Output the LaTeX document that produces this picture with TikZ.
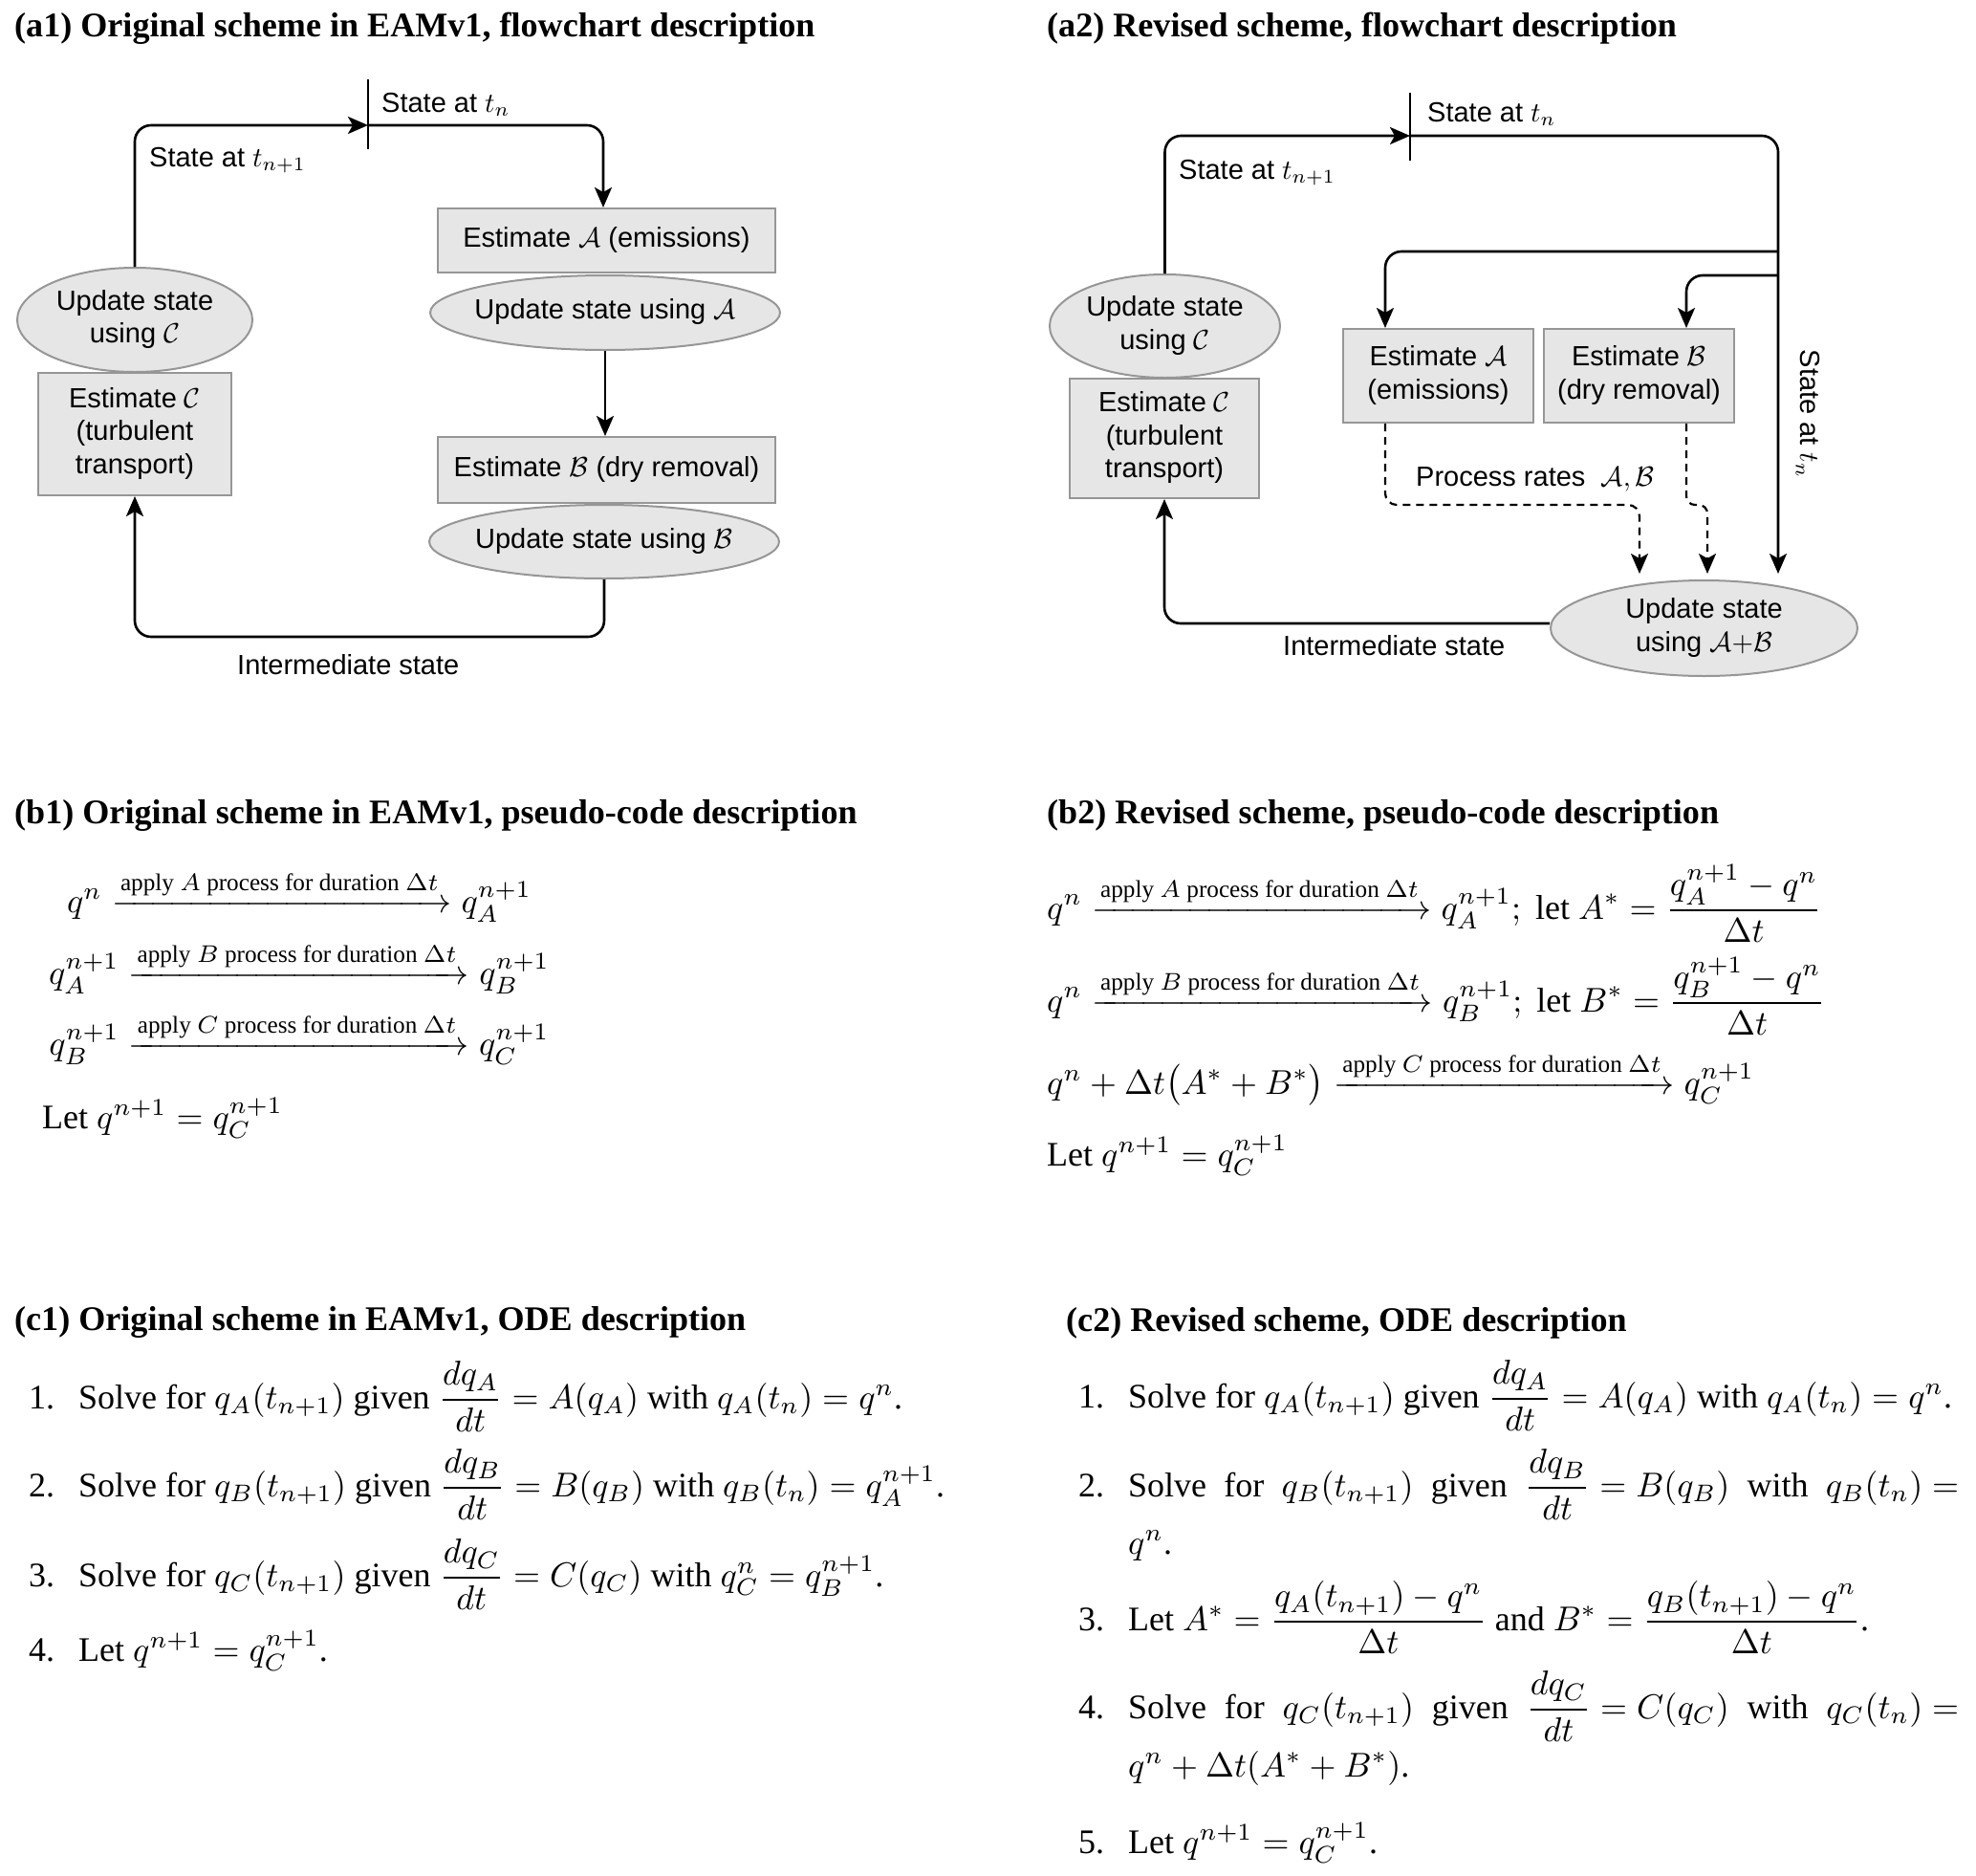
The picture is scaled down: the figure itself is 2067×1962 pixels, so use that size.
\RequirePackage{fix-cm}
\documentclass[tikz,border=0pt]{standalone}
\usepackage{amsmath}
\usepackage{graphicx}
\usepackage[no-math]{fontspec}
\setmainfont{Liberation Serif}
\setsansfont{Liberation Sans}
\usetikzlibrary{arrows.meta,shapes.geometric,calc}
\definecolor{boxfill}{RGB}{230,230,230}
\definecolor{boxline}{RGB}{150,150,150}
% text set at 10pt and scaled up, so that math scripts keep their 10pt proportions
\newcommand{\fl}[1]{\scalebox{2.9}{\sffamily\fontsize{10}{11.9}\selectfont\begin{tabular}{@{}c@{}}#1\end{tabular}}}
\newcommand{\fls}[1]{\scalebox{2.9}{\sffamily\fontsize{10}{12}\selectfont #1}}
\newcommand{\bt}[1]{\scalebox{3.6}{\rmfamily\fontsize{10}{12}\selectfont #1}}
\newcommand{\hd}[1]{\scalebox{3.61}{\rmfamily\bfseries\fontsize{10}{12}\selectfont #1}}
\newcommand{\applyarrow}[1]{\xrightarrow{\text{apply $#1$ process for duration $\Delta t$}}}
\tikzset{
  conn/.style={line width=2.6pt, -{Stealth[length=21pt,width=18pt,inset=5pt]}, rounded corners=17pt},
  dconn/.style={conn, line width=2.2pt, dash pattern=on 8pt off 6pt, rounded corners=12pt},
  tickmark/.style={line width=2.6pt},
  procbox/.style={rectangle, draw=boxline, fill=boxfill, line width=2pt, inner sep=0pt},
  procell/.style={ellipse, draw=boxline, fill=boxfill, line width=2pt, inner xsep=-80pt, inner ysep=-30pt},
  lab/.style={inner sep=0pt},
  head/.style={inner sep=0pt, anchor=base west},
  body/.style={inner sep=0pt, anchor=base west}
}
\begin{document}
\begin{tikzpicture}[x=1pt,y=-1pt]
\useasboundingbox (0,0) rectangle (2067,1962);

% ---------------- (a1) ----------------
\node[head] (ha1) at (15,38) {\hd{(a1) Original scheme in EAMv1, flowchart description}};
\node[procell, minimum width=246pt, minimum height=109pt] (ellC) at (141,334.5) {\fl{Update state\\using $\mathcal{C}$}};
\node[procbox, minimum width=202pt, minimum height=128pt] (boxC) at (141,454) {\fl{Estimate $\mathcal{C}$\\(turbulent\\transport)}};
\node[procbox, minimum width=353pt, minimum height=67pt] (boxA) at (634.5,251.5) {\fl{Estimate $\mathcal{A}$ (emissions)}};
\node[procell, minimum width=366pt, minimum height=78pt] (ellA) at (633,327) {\fl{Update state using $\mathcal{A}$}};
\node[procbox, minimum width=353pt, minimum height=69pt] (boxB) at (634.5,491.5) {\fl{Estimate $\mathcal{B}$ (dry removal)}};
\node[procell, minimum width=366pt, minimum height=77pt] (ellB) at (632,566.5) {\fl{Update state using $\mathcal{B}$}};

\coordinate (t1) at (385,131);
\draw[tickmark] (385,83) -- (385,156);
\draw[conn] (ellC.north) |- (t1);
\draw[conn] (t1) -| (631,0 |- boxA.north);
\draw[conn] (ellA.south) -- (ellA.south |- boxB.north);
\draw[conn] (ellB.south) -- ++(0,60) -| (boxC.south);

\node[lab, anchor=base west] (lTn1) at (399,117) {\fls{State at $t_n$}};
\node[lab, anchor=base west] (lTnp1) at (156,174) {\fls{State at $t_{n+1}$}};
\node[lab, anchor=base west] (lInt1) at (248,705) {\fls{Intermediate state}};

% ---------------- (a2) ----------------
\node[head] (ha2) at (1095,38) {\hd{(a2) Revised scheme, flowchart description}};
\node[procell, minimum width=241pt, minimum height=108pt] (ellC2) at (1218.5,341) {\fl{Update state\\using $\mathcal{C}$}};
\node[procbox, minimum width=198pt, minimum height=125pt] (boxC2) at (1218,458.5) {\fl{Estimate $\mathcal{C}$\\(turbulent\\transport)}};
\node[procbox, minimum width=199pt, minimum height=98pt] (boxA2) at (1504.5,393) {\fl{Estimate $\mathcal{A}$\\(emissions)}};
\node[procbox, minimum width=199pt, minimum height=98pt] (boxB2) at (1714.5,393) {\fl{Estimate $\mathcal{B}$\\(dry removal)}};
\node[procell, minimum width=321pt, minimum height=100pt] (ellAB) at (1782.5,657) {\fl{Update state\\using $\mathcal{A}{+}\mathcal{B}$}};

\coordinate (t2) at (1475,142);
\coordinate (rv) at (1860,600);
\coordinate (j1) at (1860,263);
\coordinate (j2) at (1860,288);
\coordinate (dA) at (1715,600);
\coordinate (dB) at (1786,600);
\draw[tickmark] (1475,97) -- (1475,168);
\draw[conn] (ellC2.north) |- (t2);
\draw[conn] (t2) -| (rv);
\draw[conn] (j1) -| (1449,0 |- boxA2.north);
\draw[conn] (j2) -| (1764,0 |- boxB2.north);
\draw[dconn] (1449,0 |- boxA2.south) |- (1715,528) -- (dA);
\draw[dconn, rounded corners=9pt] (1764,0 |- boxB2.south) |- (1786,528) -- (dB);
\draw[conn] ([yshift=5pt]ellAB.west) -| (boxC2.south);

\node[lab, anchor=base west] (lTn2) at (1493,127) {\fls{State at $t_n$}};
\node[lab, anchor=base west] (lTnp2) at (1233,187) {\fls{State at $t_{n+1}$}};
\node[lab, anchor=base west] (lInt2) at (1342,685) {\fls{Intermediate state}};
\node[lab, anchor=base west] (lPR) at (1481,508) {\fls{Process rates~~$\mathcal{A},\mathcal{B}$}};
\node[lab, rotate=-90] (lTn3) at (1891,433) {\fls{State at $t_n$}};

% ---------------- (b1) ----------------
\node[head] (hb1) at (15,861) {\hd{(b1) Original scheme in EAMv1, pseudo-code description}};
\node[body, anchor=base] (b1l1) at (313,954) {\bt{$q^n \applyarrow{A} q_A^{n+1}$}};
\node[body, anchor=base] (b1l2) at (313,1029) {\bt{$q_A^{n+1} \applyarrow{B} q_B^{n+1}$}};
\node[body, anchor=base] (b1l3) at (313,1103) {\bt{$q_B^{n+1} \applyarrow{C} q_C^{n+1}$}};
\node[body] (b1l4) at (44,1180) {\bt{Let $q^{n+1} = q_C^{n+1}$}};

% ---------------- (b2) ----------------
\node[head] (hb2) at (1095,861) {\hd{(b2) Revised scheme, pseudo-code description}};
\node[body] (b2l1) at (1095,961) {\bt{$\displaystyle q^n \applyarrow{A} q_A^{n+1};\ \text{let}\ A^* = \frac{q_A^{n+1}-q^n}{\Delta t}$}};
\node[body] (b2l2) at (1095,1058) {\bt{$\displaystyle q^n \applyarrow{B} q_B^{n+1};\ \text{let}\ B^* = \frac{q_B^{n+1}-q^n}{\Delta t}$}};
\node[body] (b2l3) at (1095,1144) {\bt{$q^n + \Delta t\bigl(A^* + B^*\bigr) \applyarrow{C} q_C^{n+1}$}};
\node[body] (b2l4) at (1095,1219) {\bt{Let $q^{n+1} = q_C^{n+1}$}};

% ---------------- (c1) ----------------
\node[head] (hc1) at (15,1391) {\hd{(c1) Original scheme in EAMv1, ODE description}};
\node[body] (c1n1) at (30,1473) {\bt{1.}};
\node[body] (c1i1) at (82,1473) {\bt{Solve for $q_A(t_{n+1})$ given $\dfrac{dq_A}{dt} = A(q_A)$ with $q_A(t_n) = q^n$.}};
\node[body] (c1n2) at (30,1565) {\bt{2.}};
\node[body] (c1i2) at (82,1565) {\bt{Solve for $q_B(t_{n+1})$ given $\dfrac{dq_B}{dt} = B(q_B)$ with $q_B(t_n) = q_A^{n+1}$.}};
\node[body] (c1n3) at (30,1659) {\bt{3.}};
\node[body] (c1i3) at (82,1659) {\bt{Solve for $q_C(t_{n+1})$ given $\dfrac{dq_C}{dt} = C(q_C)$ with $q_C^n = q_B^{n+1}$.}};
\node[body] (c1n4) at (30,1737) {\bt{4.}};
\node[body] (c1i4) at (82,1737) {\bt{Let $q^{n+1} = q_C^{n+1}$.}};

% ---------------- (c2) ----------------
\node[head] (hc2) at (1115,1392) {\hd{(c2) Revised scheme, ODE description}};
\node[body] (c2n1) at (1128,1472) {\bt{1.}};
\node[body] (c2i1) at (1180,1472) {\bt{Solve for $q_A(t_{n+1})$ given $\dfrac{dq_A}{dt} = A(q_A)$ with $q_A(t_n) = q^n$.}};
\node[body] (c2n2) at (1128,1565) {\bt{2.}};
\node[body] (c2i2) at (1180,1565) {\bt{\makebox[241.4pt][s]{Solve for \mbox{$q_B(t_{n+1})$} given \mbox{$\dfrac{dq_B}{dt} = B(q_B)$} with \mbox{$q_B(t_n) =$}}}};
\node[body] (c2i2b) at (1180,1625) {\bt{$q^n$.}};
\node[body] (c2n3) at (1128,1705) {\bt{3.}};
\node[body] (c2i3) at (1180,1705) {\bt{Let $A^* = \dfrac{q_A(t_{n+1}) - q^n}{\Delta t}$ and $B^* = \dfrac{q_B(t_{n+1}) - q^n}{\Delta t}$.}};
\node[body] (c2n4) at (1128,1797) {\bt{4.}};
\node[body] (c2i4) at (1180,1797) {\bt{\makebox[241.4pt][s]{Solve for \mbox{$q_C(t_{n+1})$} given \mbox{$\dfrac{dq_C}{dt} = C(q_C)$} with \mbox{$q_C(t_n) =$}}}};
\node[body] (c2i4b) at (1180,1858) {\bt{$q^n + \Delta t(A^* + B^*)$.}};
\node[body] (c2n5) at (1128,1938) {\bt{5.}};
\node[body] (c2i5) at (1180,1938) {\bt{Let $q^{n+1} = q_C^{n+1}$.}};
\end{tikzpicture}
\end{document}
